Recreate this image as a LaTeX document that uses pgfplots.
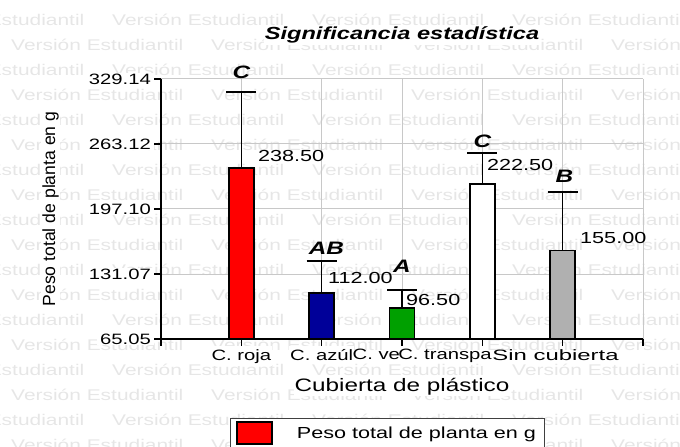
\documentclass[border=0pt]{standalone}
\usepackage{fontspec}
\setmainfont{Liberation Sans}[FakeStretch=1.35]
\newfontfamily\ylabfont{Liberation Sans}
\usepackage{graphicx}
\usepackage{pgfplots}
\pgfplotsset{compat=1.18}
\definecolor{barblue}{RGB}{0,0,153}
\definecolor{bargreen}{RGB}{0,160,0}
\definecolor{bargray}{RGB}{176,176,176}
\definecolor{gridgray}{RGB}{200,200,200}
\definecolor{wm}{RGB}{230,230,230}
\begin{document}
\begin{tikzpicture}
\useasboundingbox (0,0) rectangle (680pt,447pt);
\foreach \j in {0,...,8}{
  \foreach \i in {0,...,3}{
    \node[anchor=base west, inner sep=0pt, text=wm, font=\fontsize{15.5}{17}\selectfont] at ({(-88+200*\i)*1pt}, {(447-26-50*\j)*1pt}) {Versión Estudiantil};
    \node[anchor=base west, inner sep=0pt, text=wm, font=\fontsize{15.5}{17}\selectfont] at ({(11+200*\i)*1pt}, {(447-51-50*\j)*1pt}) {Versión Estudiantil};
  }
}
\begin{axis}[
  scale only axis, width=482pt, height=260pt,
  at={(161pt,108pt)}, anchor=south west,
  xmin=0, xmax=6, ymin=65.05, ymax=329.14,
  clip=false,
  axis x line*=bottom, axis y line*=left,
  axis line style={black, line width=1.6pt},
  tick align=outside, major tick length=7pt,
  tick style={black, line width=1.2pt},
  grid=major, major grid style={gridgray, line width=1pt},
  xtick={0,1,2,3,4,5,6},
  xticklabels={,C. roja,C. azúl,{\makebox[0pt][r]{C. ve\hspace{2pt}}},{\makebox[0pt][l]{\hspace{-84pt}C. transpa}},{\makebox[0pt][r]{\scalebox{1.18}[1]{Sin cubierta}\hspace{-56pt}}},},
  ytick={65.05,131.07,197.10,263.12,329.14},
  yticklabels={65.05,131.07,197.10,263.12,329.14},
  ticklabel style={font=\fontsize{15}{18}\selectfont, fill=white},
  xticklabel style={inner xsep=1pt, inner ysep=3pt},
  yticklabel style={inner xsep=3pt, inner ysep=1pt},
  title={\bfseries\itshape Significancia estadística},
  title style={at={(axis description cs:0.5,1.127)}, anchor=base, font=\fontsize{17.5}{20}\selectfont, fill=white, inner sep=1pt},
  xlabel={Cubierta de plástico},
  xlabel style={at={(axis description cs:0.5,-0.2)}, anchor=base, font=\fontsize{18}{20}\selectfont, fill=white, inner sep=1pt},
  ylabel={Peso total de planta en g},
  ylabel style={at={(axis description cs:-0.2199,0.5)}, anchor=base, font=\ylabfont\fontsize{17.6}{20}\selectfont, fill=white, inner sep=1pt},
  legend style={at={(axis description cs:0.1432,-0.3038)}, anchor=north west, draw=black!75, line width=0.8pt, fill=white, inner xsep=6pt, inner ysep=3pt, font=\fontsize{16}{18}\selectfont, /tikz/every odd column/.append style={column sep=22pt}},
  legend image code/.code={\draw[fill=red, draw=black, line width=1.5pt] (0pt,-11pt) rectangle (35pt,11pt);},
  error bars/error bar style={black, line width=1.5pt},
  error bars/error mark options={rotate=90, mark size=15pt, line width=1.5pt, black},
]
\addplot[ybar, bar shift=0pt, bar width=25pt, fill=red, draw=black, line width=1.5pt,
  error bars/.cd, y dir=plus, y explicit]
  coordinates {(1,238.5) +- (0,77.5)};
\addlegendentry{Peso total de planta en g}
\addplot[ybar, bar shift=0pt, bar width=25pt, fill=barblue, draw=black, line width=1.5pt, forget plot,
  error bars/.cd, y dir=plus, y explicit]
  coordinates {(2,112) +- (0,32.5)};
\addplot[ybar, bar shift=0pt, bar width=25pt, fill=bargreen, draw=black, line width=1.5pt, forget plot,
  error bars/.cd, y dir=plus, y explicit]
  coordinates {(3,96.5) +- (0,18.5)};
\addplot[ybar, bar shift=0pt, bar width=25pt, fill=white, draw=black, line width=1.5pt, forget plot,
  error bars/.cd, y dir=plus, y explicit]
  coordinates {(4,222.5) +- (0,31.5)};
\addplot[ybar, bar shift=0pt, bar width=25pt, fill=bargray, draw=black, line width=1.5pt, forget plot,
  error bars/.cd, y dir=plus, y explicit]
  coordinates {(5,155) +- (0,59.5)};
% value labels
\addplot[draw=none, mark=none, forget plot, nodes near coords, point meta=explicit symbolic,
  nodes near coords style={anchor=west, inner sep=0pt, font=\fontsize{16}{18}\selectfont, text=black}]
  table[meta=lab] {
x y lab
1.2075 250.9 238.50
2.079 127.0 112.00
3.05 104.7 96.50
4.058 241.8 222.50
5.216 167.6 155.00
};
% significance letters
\addplot[draw=none, mark=none, forget plot, nodes near coords, point meta=explicit symbolic,
  nodes near coords style={anchor=center, inner sep=0pt, font=\fontsize{18}{20}\selectfont\bfseries\itshape, text=black}]
  table[meta=lab] {
x y lab
1.0 336.25 C
2.06 157.5 AB
3.0 139.2 A
4.0 265.7 C
5.02 230.1 B
};
\end{axis}
\end{tikzpicture}
\end{document}
